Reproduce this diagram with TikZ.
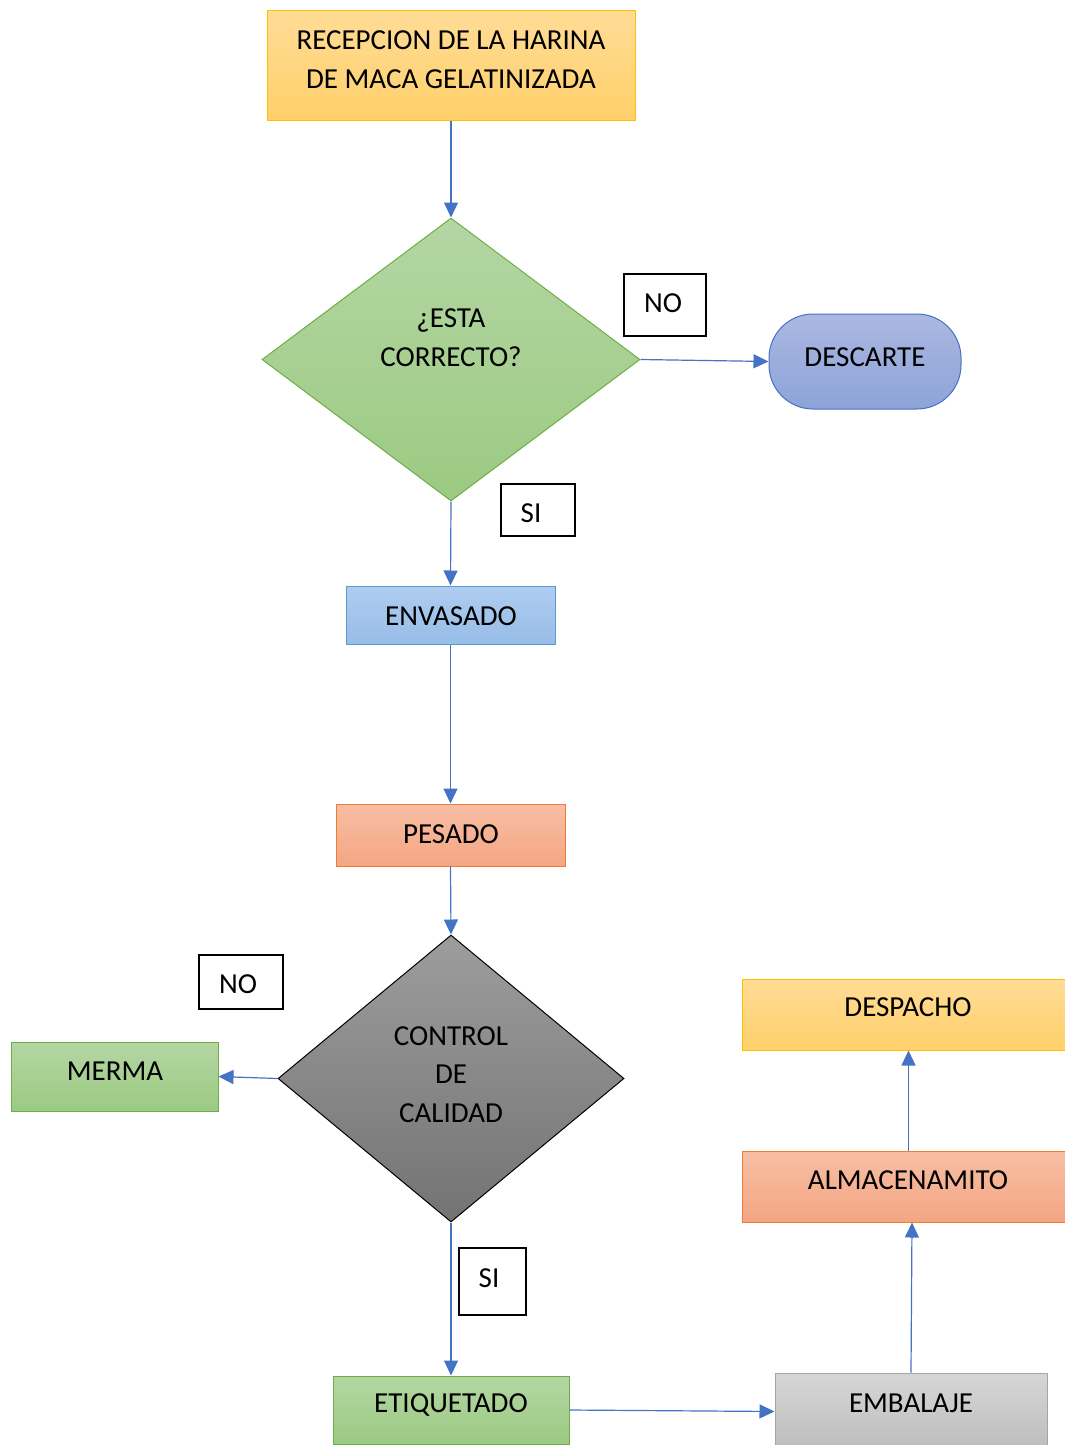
\documentclass[tikz,border=0pt]{standalone}
\usepackage{fontspec}
\setmainfont{Carlito}
\usetikzlibrary{arrows.meta,shapes.geometric}
\definecolor{yelT}{HTML}{FFDC96}
\definecolor{yelB}{HTML}{FFD06A}
\definecolor{yelD}{HTML}{FFC000}
\definecolor{grnT}{HTML}{B4D6A3}
\definecolor{grnB}{HTML}{9BCA82}
\definecolor{grnD}{HTML}{70AD47}
\definecolor{bluT}{HTML}{ABB8E1}
\definecolor{bluB}{HTML}{8DA3D8}
\definecolor{bluD}{HTML}{4472C4}
\definecolor{lbT}{HTML}{AECCEF}
\definecolor{lbB}{HTML}{98BDE8}
\definecolor{lbD}{HTML}{5B9BD5}
\definecolor{orT}{HTML}{F7BEA4}
\definecolor{orB}{HTML}{F4A683}
\definecolor{orD}{HTML}{ED7D31}
\definecolor{gyT}{HTML}{D6D6D6}
\definecolor{gyB}{HTML}{BDBDBD}
\definecolor{gyD}{HTML}{A5A5A5}
\definecolor{dgT}{HTML}{9D9D9D}
\definecolor{dgB}{HTML}{737373}
\definecolor{arr}{HTML}{4472C4}
\begin{document}
\begin{tikzpicture}[x=1pt,y=-1pt,
  shp/.style={rectangle, line width=1pt, inner sep=0pt},
  yel/.style={shp, draw=yelD, top color=yelT, bottom color=yelB},
  grn/.style={shp, draw=grnD, top color=grnT, bottom color=grnB},
  blu/.style={shp, draw=bluD, top color=bluT, bottom color=bluB},
  lbl/.style={shp, draw=lbD, top color=lbT, bottom color=lbB},
  org/.style={shp, draw=orD, top color=orT, bottom color=orB},
  gry/.style={shp, draw=gyD, top color=gyT, bottom color=gyB},
  tagbox/.style={rectangle, draw=black, line width=1.1pt, fill=white, inner sep=0pt},
  txt/.style={inner sep=0pt, align=center, font=\fontsize{29}{39}\selectfont},
  flow/.style={draw=arr, line width=1.2pt, -{Triangle[length=15pt,width=14pt]}}
]
\useasboundingbox (0,0) rectangle (1065,1445);

% shapes
\node[yel, minimum width=368, minimum height=109] (recep) at (451,65.5) {};
\node[diamond, draw=grnD, line width=1pt, top color=grnT, bottom color=grnB, inner sep=0pt, minimum width=378, minimum height=283] (d1) at (451,359.5) {};
\node[tagbox, minimum width=82, minimum height=62] (no1) at (665,305) {};
\node[blu, rounded corners=44pt, minimum width=192, minimum height=95] (desc) at (865,361.5) {};
\node[tagbox, minimum width=74, minimum height=52] (si1) at (538,510) {};
\node[lbl, minimum width=209, minimum height=58] (env) at (450.5,615) {};
\node[org, minimum width=229, minimum height=62] (pes) at (450.5,835) {};
\node[diamond, draw=black, line width=1pt, top color=dgT, bottom color=dgB, inner sep=0pt, minimum width=346, minimum height=287] (d2) at (451,1078.5) {};
\node[tagbox, minimum width=84, minimum height=54] (no2) at (241,982) {};
\node[grn, minimum width=207, minimum height=69] (merma) at (114.5,1076.5) {};
\node[tagbox, minimum width=67, minimum height=67] (si2) at (492.5,1281.5) {};
\node[grn, minimum width=236, minimum height=68] (etiq) at (451,1410) {};
\node[gry, minimum width=272, minimum height=77] (emb) at (911,1411.5) {};
\node[org, minimum width=333, minimum height=71] (alm) at (908.5,1186.5) {};
\node[yel, minimum width=333, minimum height=71] (desp) at (908.5,1014.5) {};

% texts
\node[txt] (recepT) at (451,59.5) {RECEPCION DE LA HARINA\\DE MACA GELATINIZADA};
\node[txt] (d1T) at (451,337.5) {¿ESTA\\CORRECTO?};
\node[txt] (no1T) at (663,303) {NO};
\node[txt] (descT) at (865,357) {DESCARTE};
\node[txt] (si1T) at (531,513) {SI};
\node[txt] (envT) at (451,616) {ENVASADO};
\node[txt] (pesT) at (451,834) {PESADO};
\node[txt, font=\fontsize{29}{38.5}\selectfont] (d2T) at (451,1074.5) {CONTROL\\DE\\CALIDAD};
\node[txt] (no2T) at (238,984) {NO};
\node[txt] (mermaT) at (115,1071) {MERMA};
\node[txt] (si2T) at (489,1278) {SI};
\node[txt] (etiqT) at (451,1405) {ETIQUETADO};
\node[txt] (embT) at (911,1403) {EMBALAJE};
\node[txt] (almT) at (908,1180) {ALMACENAMITO};
\node[txt] (despT) at (908,1007) {DESPACHO};

% connectors
\draw[flow] (recep.south) -- (d1.north);
\draw[flow] (d1.east) -- (desc.west);
\draw[flow] (d1.south) -- (env.north);
\draw[flow] (env.south) -- (pes.north);
\draw[flow] (pes.south) -- (d2.north);
\draw[flow] (d2.west) -- (merma.east);
\draw[flow] (d2.south) -- (etiq.north);
\draw[flow] (etiq.east) -- (emb.west);
\draw[flow] (emb.north) -- ([xshift=1pt]emb.north |- alm.south);
\draw[flow] (alm.north) -- (desp.south);
\end{tikzpicture}
\end{document}
